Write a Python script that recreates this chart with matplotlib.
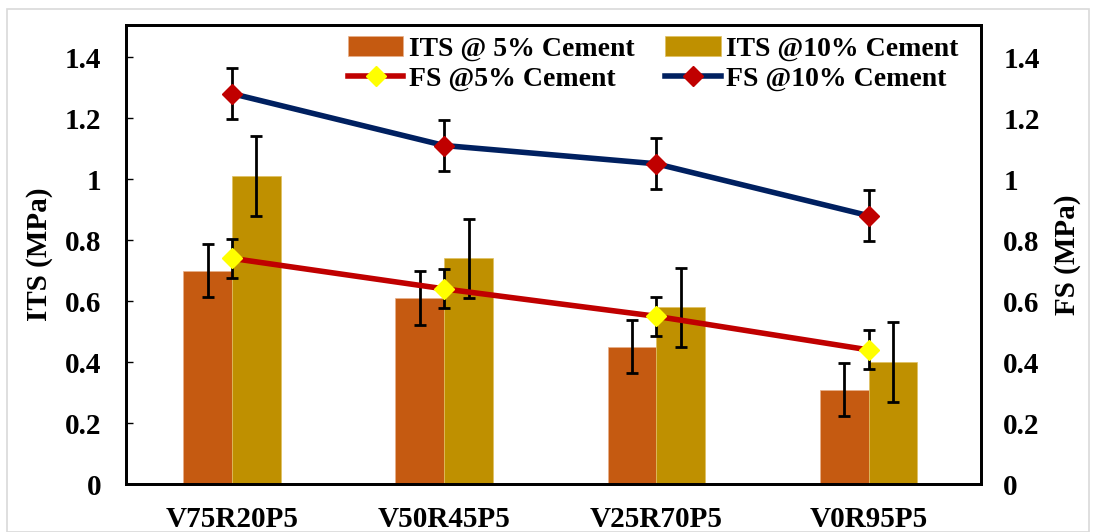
import numpy as np
import matplotlib.pyplot as plt
from matplotlib.patches import Rectangle

plt.rcParams['font.family'] = ['Liberation Serif', 'DejaVu Serif']
plt.rcParams['font.weight'] = 'bold'

mixes = ["V75R20P5", "V50R45P5", "V25R70P5", "V0R95P5"]
its_5 = [0.70, 0.61, 0.45, 0.31]
its_5_err = [0.087, 0.087, 0.087, 0.087]
its_10 = [1.01, 0.74, 0.58, 0.40]
its_10_err = [0.13, 0.13, 0.13, 0.13]
fs_5 = [0.74, 0.64, 0.55, 0.44]
fs_5_err = [0.064, 0.064, 0.064, 0.064]
fs_10 = [1.28, 1.11, 1.05, 0.88]
fs_10_err = [0.084, 0.084, 0.084, 0.084]

x = np.arange(len(mixes))
w = 0.23
fs = 21

fig = plt.figure(figsize=(10.93, 5.32), dpi=100)
fig.patches.append(Rectangle((0.006, 0.0), 0.99, 0.983, transform=fig.transFigure,
                             fill=False, edgecolor='#d9d9d9', lw=1.2))
ax = fig.add_axes([0.1153, 0.090, 0.7822, 0.863])

ax.bar(x - w / 2, its_5, w, color='#C55A11', edgecolor='#e8b08a', lw=0.5,
       label='ITS @ 5% Cement')
ax.bar(x + w / 2, its_10, w, color='#BF9000', edgecolor='#e0c060', lw=0.5,
       label='ITS @10% Cement')
ax.errorbar(x - w / 2, its_5, yerr=its_5_err, fmt='none', ecolor='black',
            elinewidth=2, capsize=4.5, capthick=2)
ax.errorbar(x + w / 2, its_10, yerr=its_10_err, fmt='none', ecolor='black',
            elinewidth=2, capsize=4.5, capthick=2)

ax2 = ax.twinx()
ax2.plot(x, fs_5, color='#C00000', lw=4, marker='D', ms=10,
         mfc='#FFFF00', mec='#FFFF00', label='FS @5% Cement', zorder=3)
ax2.plot(x, fs_10, color='#002060', lw=4, marker='D', ms=10,
         mfc='#C00000', mec='#C00000', label='FS @10% Cement', zorder=3)
ax2.errorbar(x, fs_5, yerr=fs_5_err, fmt='none', ecolor='black',
             elinewidth=2, capsize=4.5, capthick=2, zorder=2)
ax2.errorbar(x, fs_10, yerr=fs_10_err, fmt='none', ecolor='black',
             elinewidth=2, capsize=4.5, capthick=2, zorder=2)

for a in (ax, ax2):
    a.set_ylim(0, 1.505)
    a.set_yticks(np.arange(0, 1.41, 0.2))
    a.set_yticklabels(['0', '0.2', '0.4', '0.6', '0.8', '1', '1.2', '1.4'],
                      fontsize=fs, fontweight='bold')
    for s in a.spines.values():
        s.set_linewidth(2)

ax.set_xlim(-0.5, 3.53)
ax.set_xticks(x)
ax.set_xticklabels(mixes, fontsize=fs, fontweight='bold')
ax.tick_params(axis='x', length=0, pad=16)
ax.tick_params(axis='y', direction='in', length=5, width=1, pad=18)
ax2.tick_params(axis='y', length=0, pad=16)

ax.set_ylabel('ITS (MPa)', fontsize=fs, fontweight='bold', labelpad=8)
ax2.set_ylabel('FS (MPa)', fontsize=fs, fontweight='bold', rotation=90,
               labelpad=10)

h1, l1 = ax.get_legend_handles_labels()
h2, l2 = ax2.get_legend_handles_labels()
handles = [h1[0], h2[0], h1[1], h2[1]]
labels = [l1[0], l2[0], l1[1], l2[1]]
ax2.legend(handles, labels, ncol=2, loc='upper right',
           bbox_to_anchor=(1.003, 1.03), frameon=False,
           prop={'size': 20, 'weight': 'bold'},
           handlelength=2.0, handletextpad=0.2, columnspacing=1.1,
           labelspacing=0.18)

fig.savefig('out.png', dpi=100)
